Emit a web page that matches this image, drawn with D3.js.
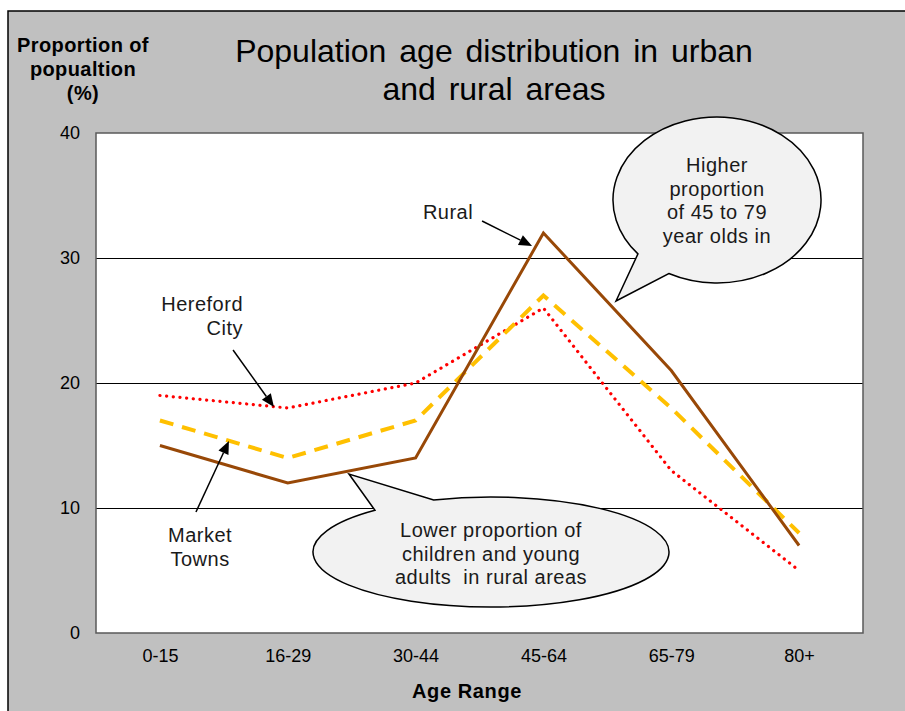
<!DOCTYPE html>
<html>
<head>
<meta charset="utf-8">
<script src="https://cdn.jsdelivr.net/npm/d3@7"></script>
<style>
  html, body { margin: 0; padding: 0; background: #fff; }
  svg { display: block; font-family: "Liberation Sans", Arial, sans-serif; }
  text { white-space: pre; }
</style>
</head>
<body>
<div id="chart"></div>
<script>
var categories = ['0-15', '16-29', '30-44', '45-64', '65-79', '80+'];
var rural = [15, 12, 14, 32, 21, 7];
var marketTowns = [17, 14, 17, 27, 18, 8];
var herefordCity = [19, 18, 20, 26, 13, 5];
var yTicks = [0, 10, 20, 30, 40];
var titleLines = ['Population age distribution in urban', 'and rural areas'];
var yTitleLines = ['Proportion of', 'popualtion', '(%)'];

var width = 905, height = 711;
var margin = { top: 133, right: 42, bottom: 78, left: 96 };
var innerW = width - margin.left - margin.right,
  innerH = height - margin.top - margin.bottom;

var svg = d3.select('#chart')
  .append('svg')
  .attr('width', width)
  .attr('height', height);

// chart area background
svg.append('rect')
  .attr('x', 8).attr('y', 11)
  .attr('width', width - 8).attr('height', height - 11)
  .attr('fill', '#c0c0c0');
svg.append('path')
  .attr('d', 'M8,' + height + 'V11H' + width)
  .attr('fill', 'none')
  .attr('stroke', '#000')
  .attr('stroke-width', 1.5);

var g = svg.append('g')
  .attr('transform', 'translate(' + margin.left + ',' + margin.top + ')');

var x = d3.scalePoint().domain(categories).range([0, innerW]).padding(0.5);
// index scale used to place the annotations in data space
var xi = d3.scaleLinear().domain([-0.5, categories.length - 0.5]).range([0, innerW]);
var y = d3.scaleLinear().domain([0, 40]).range([innerH, 0]);

g.append('rect')
  .attr('width', innerW)
  .attr('height', innerH)
  .attr('fill', '#fff');

g.append('g')
  .selectAll('line')
  .data(yTicks.filter(function (d) { return d > 0 && d < 40; }))
  .enter()
  .append('line')
  .attr('x1', 0).attr('x2', innerW)
  .attr('y1', function (d) { return y(d) + 0.5; })
  .attr('y2', function (d) { return y(d) + 0.5; })
  .attr('stroke', '#000')
  .attr('stroke-width', 1);

g.append('rect')
  .attr('width', innerW)
  .attr('height', innerH)
  .attr('fill', 'none')
  .attr('stroke', '#595959')
  .attr('stroke-width', 1.5);

// axes
var yAxis = g.append('g')
  .call(d3.axisLeft(y).tickValues(yTicks).tickSize(0).tickPadding(16));
yAxis.select('.domain').remove();
yAxis.selectAll('text')
  .attr('font-size', 18)
  .attr('font-family', '"Liberation Sans", Arial, sans-serif')
  .attr('fill', '#000');

var xAxis = g.append('g')
  .attr('transform', 'translate(0,' + innerH + ')')
  .call(d3.axisBottom(x).tickSize(0).tickPadding(16));
xAxis.select('.domain').remove();
xAxis.selectAll('text')
  .attr('font-size', 18)
  .attr('font-family', '"Liberation Sans", Arial, sans-serif')
  .attr('fill', '#000');

// series
var line = d3.line()
  .x(function (d, i) { return x(categories[i]); })
  .y(function (d) { return y(d); });

var series = [
  { name: 'Hereford City', values: herefordCity, color: '#ff0000', width: 3.2, dash: '0.1,6.6', cap: 'round' },
  { name: 'Market Towns', values: marketTowns, color: '#ffc000', width: 4, dash: '14,9', cap: 'butt' },
  { name: 'Rural', values: rural, color: '#984807', width: 3, dash: null, cap: 'butt' }
];

g.selectAll('path.series')
  .data(series)
  .enter()
  .append('path')
  .attr('class', 'series')
  .attr('d', function (d) { return line(d.values); })
  .attr('fill', 'none')
  .attr('stroke', function (d) { return d.color; })
  .attr('stroke-width', function (d) { return d.width; })
  .attr('stroke-dasharray', function (d) { return d.dash; })
  .attr('stroke-linecap', function (d) { return d.cap; })
  .attr('stroke-linejoin', 'miter');

// speech bubbles (centre / tip in data space, radii in px)
var bubbles = [
  { cx: 4.358, cy: 34.64, rx: 104, ry: 83, a1: 139.5, a2: 117.6, tipX: 3.568, tipY: 26.56,
    lines: ['Higher', 'proportion', 'of 45 to 79', 'year olds in'], first: -28 },
  { cx: 2.59, cy: 6.48, rx: 178, ry: 55, a1: -130.7, a2: -108.8, tipX: 1.479, tipY: 12.72,
    lines: ['Lower proportion of', 'children and young', 'adults  in rural areas'], first: -15 }
];

function bubblePath(b) {
  var cx = xi(b.cx), cy = y(b.cy);
  var p1 = [cx + b.rx * Math.cos(b.a1 * Math.PI / 180), cy + b.ry * Math.sin(b.a1 * Math.PI / 180)];
  var p2 = [cx + b.rx * Math.cos(b.a2 * Math.PI / 180), cy + b.ry * Math.sin(b.a2 * Math.PI / 180)];
  var sweep = b.a1 < b.a2 ? 1 : 0;
  return 'M' + p1 + 'L' + xi(b.tipX) + ',' + y(b.tipY) + 'L' + p2 +
    'A' + b.rx + ',' + b.ry + ' 0 1 ' + sweep + ' ' + p1 + 'Z';
}

var bubble = g.selectAll('g.bubble')
  .data(bubbles)
  .enter()
  .append('g')
  .attr('class', 'bubble');

bubble.append('path')
  .attr('d', bubblePath)
  .attr('fill', '#f2f2f2')
  .attr('stroke', '#000')
  .attr('stroke-width', 1.5);

bubble.each(function (b) {
  var el = d3.select(this);
  el.selectAll('text')
    .data(b.lines)
    .enter()
    .append('text')
    .attr('x', xi(b.cx))
    .attr('y', function (d, i) { return y(b.cy) + b.first + i * 23.7; })
    .attr('text-anchor', 'middle')
    .attr('font-size', 20)
    .attr('letter-spacing', 0.5)
    .attr('fill', '#1a1a1a')
    .text(function (d) { return d; });
});

// labels with arrows
var labels = [
  { lines: ['Rural'], x: 2.254, y: 33.12, anchor: 'middle', from: [2.52, 32.96], to: [2.911, 30.96] },
  { lines: ['Hereford', 'City'], x: 0.65, y: 25.76, anchor: 'end', from: [0.572, 22.64], to: [0.892, 18.08] },
  { lines: ['Market', 'Towns'], x: 0.314, y: 7.28, anchor: 'middle', from: [0.282, 9.68], to: [0.54, 15.36] }
];

var label = g.selectAll('g.label')
  .data(labels)
  .enter()
  .append('g')
  .attr('class', 'label');

label.each(function (d) {
  var el = d3.select(this);
  el.selectAll('text')
    .data(d.lines)
    .enter()
    .append('text')
    .attr('x', xi(d.x))
    .attr('y', function (t, i) { return y(d.y) + i * 24; })
    .attr('text-anchor', d.anchor)
    .attr('font-size', 20)
    .attr('letter-spacing', 0.5)
    .attr('fill', '#1a1a1a')
    .text(function (t) { return t; });

  var x1 = xi(d.from[0]), y1 = y(d.from[1]),
    x2 = xi(d.to[0]), y2 = y(d.to[1]);
  var ang = Math.atan2(y2 - y1, x2 - x1),
    len = 13, half = 5.5;
  var bx = x2 - len * Math.cos(ang), by = y2 - len * Math.sin(ang);
  el.append('line')
    .attr('x1', x1).attr('y1', y1)
    .attr('x2', bx).attr('y2', by)
    .attr('stroke', '#000')
    .attr('stroke-width', 1.5);
  el.append('path')
    .attr('d', 'M' + x2 + ',' + y2 +
      'L' + (bx + half * Math.sin(ang)) + ',' + (by - half * Math.cos(ang)) +
      'L' + (bx - half * Math.sin(ang)) + ',' + (by + half * Math.cos(ang)) + 'Z')
    .attr('fill', '#000');
});

// titles
svg.append('g')
  .selectAll('text')
  .data(titleLines)
  .enter()
  .append('text')
  .attr('x', 494)
  .attr('y', function (d, i) { return 62 + i * 38; })
  .attr('text-anchor', 'middle')
  .attr('font-size', 32)
  .attr('word-spacing', 4)
  .attr('fill', '#000')
  .text(function (d) { return d; });

svg.append('g')
  .selectAll('text')
  .data(yTitleLines)
  .enter()
  .append('text')
  .attr('x', 83)
  .attr('y', function (d, i) { return 52 + i * 24; })
  .attr('text-anchor', 'middle')
  .attr('font-size', 20)
  .attr('letter-spacing', 0.4)
  .attr('font-weight', 'bold')
  .attr('fill', '#000')
  .text(function (d) { return d; });

svg.append('text')
  .attr('x', 467)
  .attr('y', 698)
  .attr('text-anchor', 'middle')
  .attr('font-size', 20)
  .attr('letter-spacing', 0.6)
  .attr('font-weight', 'bold')
  .attr('fill', '#000')
  .text('Age Range');
</script>
</body>
</html>
